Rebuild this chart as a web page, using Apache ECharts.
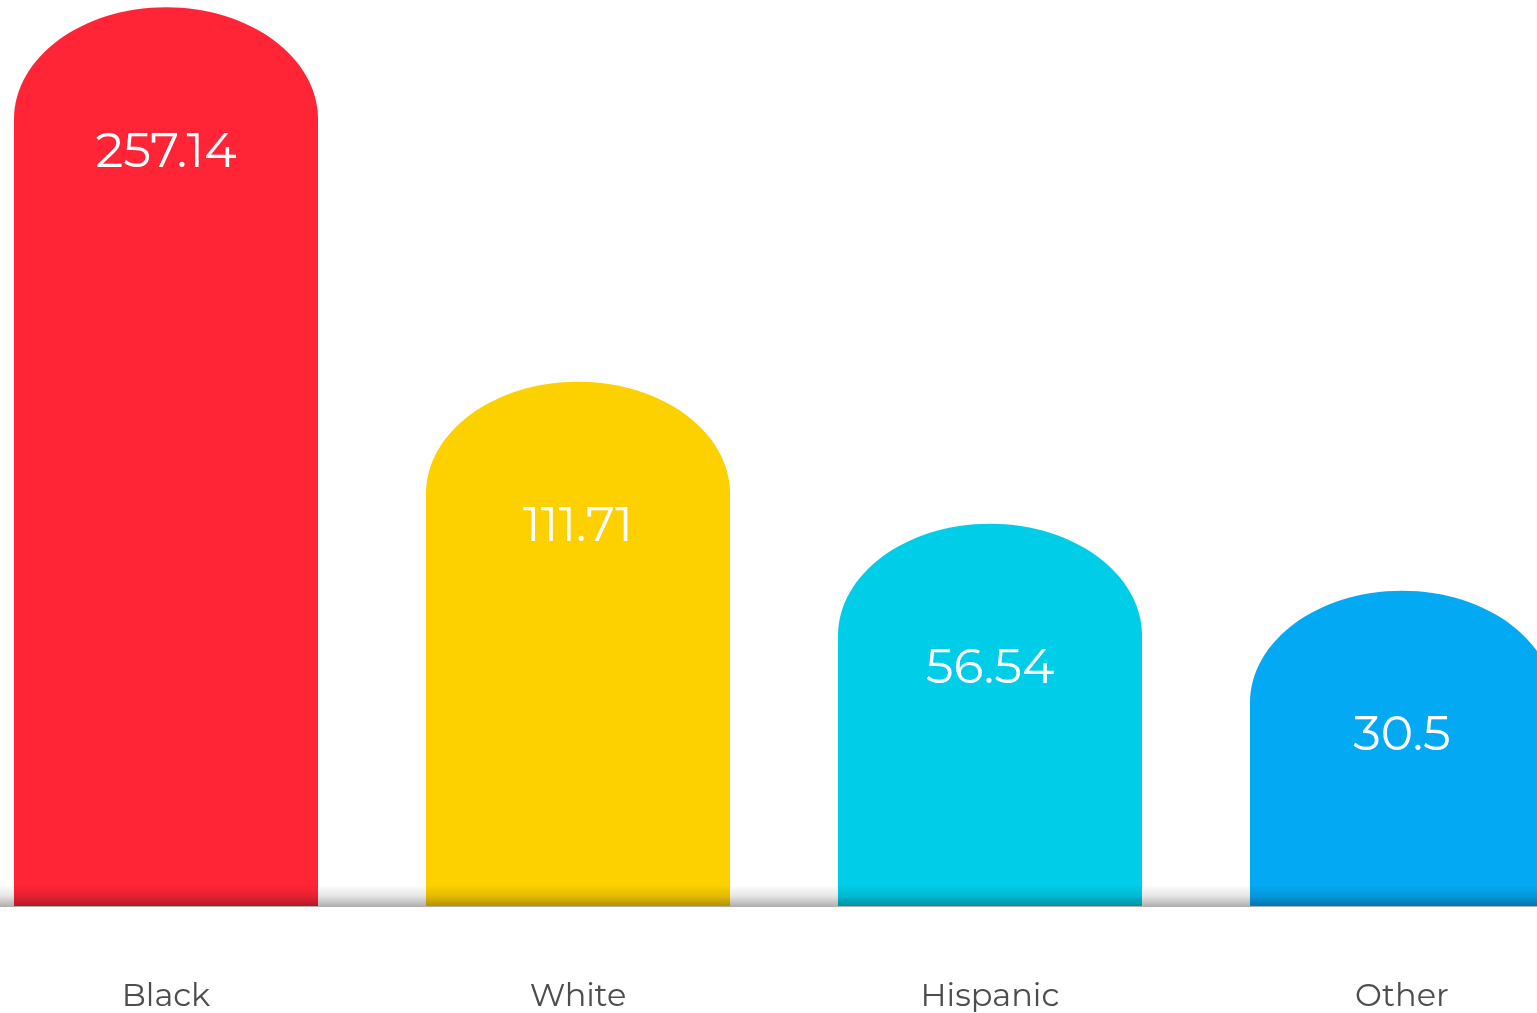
<!DOCTYPE html>
<html>
<head>
<meta charset="utf-8">
<title>Rate by group</title>
<script src="https://cdn.jsdelivr.net/npm/echarts@6/dist/echarts.min.js"></script>
<style>
  html, body { margin: 0; padding: 0; background: #ffffff; overflow: hidden; }
  /* the plot is wider than the page: the first and last bands run past its edges */
  #chart { width: 1648px; height: 1013px; margin-left: -40px; }
</style>
</head>
<body>
<div id="chart"></div>
<script>
// Groups and their rates
const categories = ['Black', 'White', 'Hispanic', 'Other'];
const rates = [257.14, 111.71, 56.54, 30.5];
const barColors = ['#FF2537', '#FDD000', '#00CDE8', '#04A9F4'];

// Value range of the hidden value axis (bars rise from its lower end)
const axisMin = -92;
const axisMax = 260;

const chart = echarts.init(document.getElementById('chart'), null, { renderer: 'canvas' });

const labelFont = "400 49px Montserrat, 'Open Sans', 'Noto Sans', sans-serif";

function renderBar(params, api) {
  const idx = api.value(0);
  const val = api.value(1);
  const top = api.coord([idx, val]);
  const base = api.coord([idx, axisMin]);
  const width = api.size([1, 0])[0] * 0.738;
  const rx = width / 2;
  const ry = 112;
  const cx = top[0];
  const capY = top[1] + ry;
  const fill = barColors[params.dataIndex];
  return {
    type: 'group',
    children: [
      {
        type: 'ellipse',
        shape: { cx: cx, cy: capY, rx: rx, ry: ry },
        style: { fill: fill }
      },
      {
        type: 'rect',
        shape: { x: cx - rx, y: capY, width: width, height: base[1] - capY },
        style: { fill: fill }
      },
      {
        type: 'text',
        style: {
          text: String(val),
          x: cx,
          y: top[1] + 145,
          fill: '#ffffff',
          font: labelFont,
          align: 'center',
          verticalAlign: 'middle'
        }
      }
    ]
  };
}

chart.setOption({
  animation: false,
  backgroundColor: '#ffffff',
  grid: { left: 0, right: 0, top: 0, bottom: 106, containLabel: false },
  xAxis: {
    type: 'category',
    data: categories,
    boundaryGap: true,
    axisLine: { show: false },
    axisTick: { show: false },
    splitLine: { show: false },
    axisLabel: {
      margin: 75,
      color: '#4d4d4d',
      fontSize: 32,
      fontFamily: "Montserrat, 'Open Sans', 'Noto Sans', sans-serif",
      fontWeight: 400
    }
  },
  yAxis: {
    type: 'value',
    min: axisMin,
    max: axisMax,
    show: false,
    splitLine: { show: false }
  },
  series: [{
    type: 'custom',
    renderItem: renderBar,
    encode: { x: 0, y: 1 },
    data: rates.map((v, i) => [i, v]),
    z: 2
  }],
  graphic: [{
    type: 'rect',
    left: 0,
    bottom: 106,
    z: 100,
    silent: true,
    shape: { width: 1648, height: 22 },
    style: {
      fill: new echarts.graphic.LinearGradient(0, 0, 0, 1, [
        { offset: 0, color: 'rgba(0,0,0,0)' },
        { offset: 0.5, color: 'rgba(0,0,0,0.1)' },
        { offset: 1, color: 'rgba(0,0,0,0.32)' }
      ])
    }
  }]
});
</script>
</body>
</html>
